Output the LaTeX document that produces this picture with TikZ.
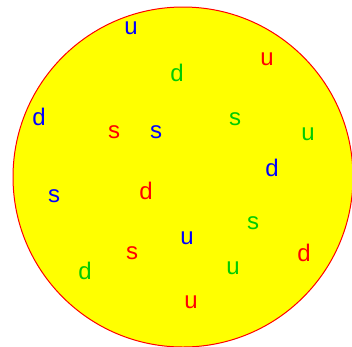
\documentclass[tikz,border=0pt]{standalone}
\usepackage{fontspec}
\setmainfont{Liberation Sans}
\definecolor{qred}{RGB}{255,0,0}
\definecolor{qgreen}{RGB}{0,204,0}
\definecolor{qblue}{RGB}{0,0,255}
\definecolor{qyellow}{RGB}{255,255,0}
\tikzset{q/.style={anchor=base,inner sep=0pt,font=\fontsize{24}{24}\selectfont}}
\begin{document}
\begin{tikzpicture}[x=1pt,y=-1pt]
\useasboundingbox (0,0) rectangle (352,346);
\node[circle,draw=qred,fill=qyellow,line width=1pt,minimum size=340pt,inner sep=0pt] (bag) at (183,177) {};
\node[q,text=qblue] (q1) at (131,34) {u};
\node[q,text=qred] (q2) at (267,65) {u};
\node[q,text=qgreen] (q3) at (177,81) {d};
\node[q,text=qblue] (q4) at (39,125) {d};
\node[q,text=qgreen] (q5) at (235,125) {s};
\node[q,text=qred] (q6) at (114,138) {s};
\node[q,text=qblue] (q7) at (156,138) {s};
\node[q,text=qgreen] (q8) at (308,140) {u};
\node[q,text=qblue] (q9) at (272,176) {d};
\node[q,text=qblue] (q10) at (54,202) {s};
\node[q,text=qred] (q11) at (146,199) {d};
\node[q,text=qgreen] (q12) at (253,229) {s};
\node[q,text=qblue] (q13) at (187,244) {u};
\node[q,text=qred] (q14) at (132,259) {s};
\node[q,text=qred] (q15) at (304,261) {d};
\node[q,text=qgreen] (q16) at (85,279) {d};
\node[q,text=qgreen] (q17) at (233,274) {u};
\node[q,text=qred] (q18) at (191,308) {u};
\end{tikzpicture}
\end{document}
